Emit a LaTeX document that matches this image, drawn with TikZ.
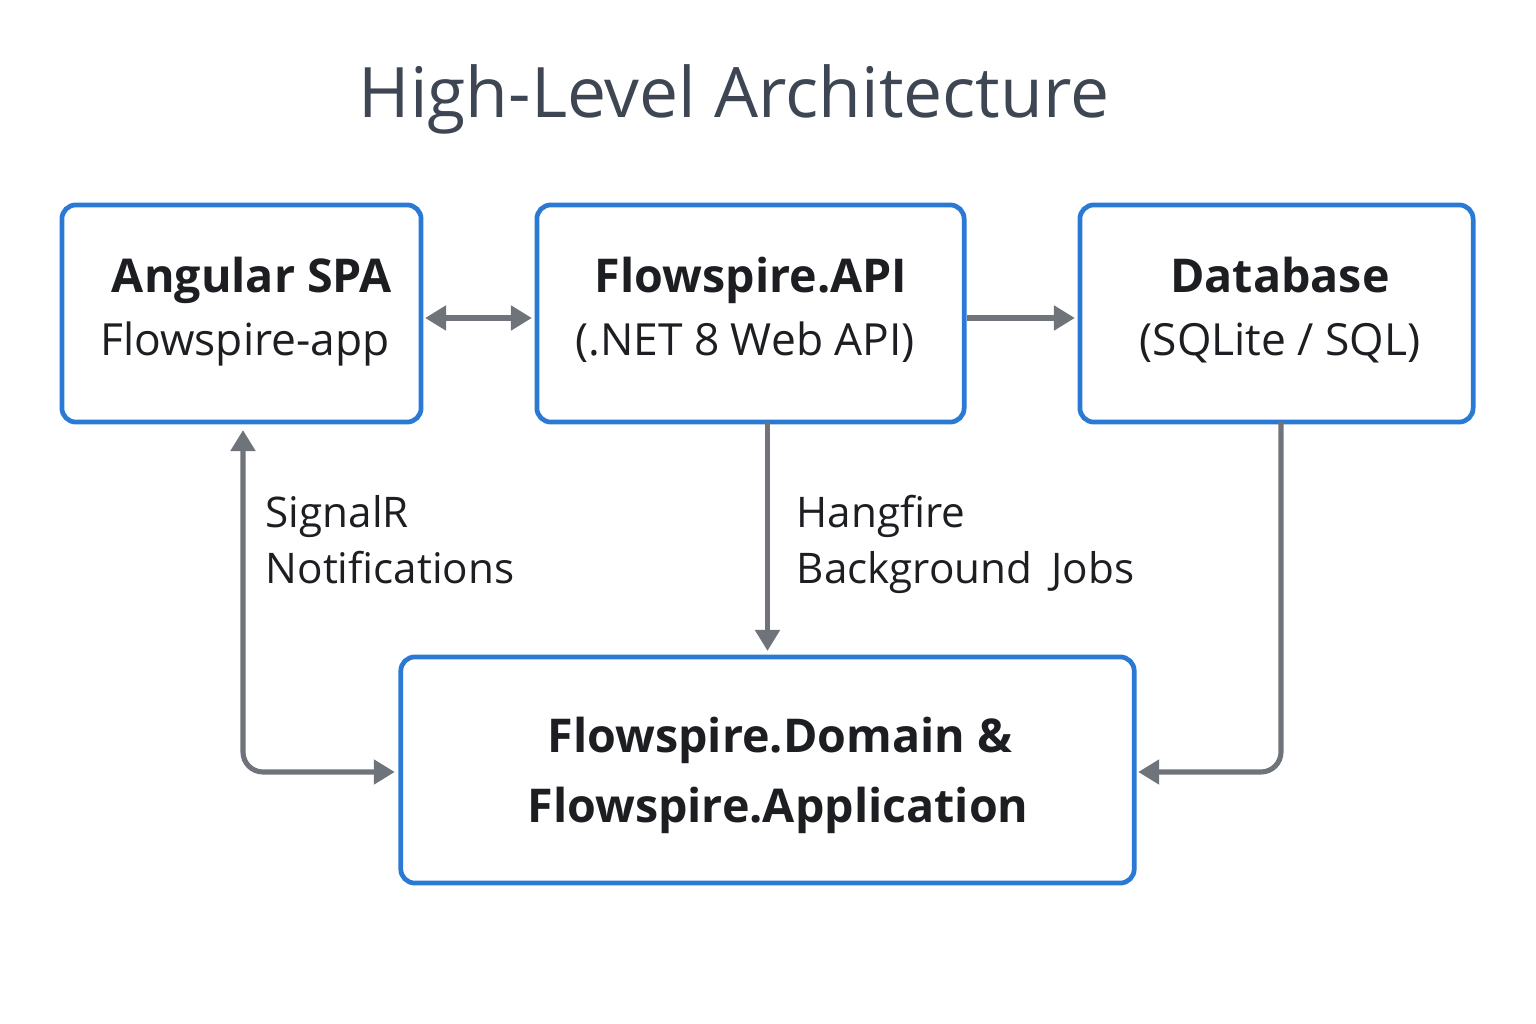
\documentclass[tikz,border=0pt]{standalone}
\usepackage{fontspec}
\setmainfont{Open Sans}
\usetikzlibrary{arrows.meta}
\definecolor{boxblue}{HTML}{2A7AD5}
\definecolor{arrgray}{HTML}{6F747B}
\definecolor{titlegray}{HTML}{3D4652}
\definecolor{textblack}{HTML}{1C1E22}
\tikzset{
  box/.style={draw=boxblue, line width=1.35pt, rounded corners=0.14cm, fill=white,
    align=center, text=textblack, inner sep=0pt, outer sep=0pt},
  arr/.style={draw=arrgray, line width=1.45pt,
    -{Triangle[length=0.21cm, width=0.24cm, fill=arrgray]}},
  dbl/.style={draw=arrgray, line width=1.45pt,
    {Triangle[length=0.21cm, width=0.24cm, fill=arrgray]}-{Triangle[length=0.21cm, width=0.24cm, fill=arrgray]}},
  lbl/.style={anchor=base west, inner sep=0pt, text=textblack,
    font=\fontsize{12pt}{15pt}\selectfont},
  big/.style={anchor=base, text=textblack, font=\fontsize{13.25pt}{16pt}\selectfont\bfseries},
  small/.style={anchor=base, text=textblack, font=\fontsize{12.6pt}{16pt}\selectfont},
}
\begin{document}
\begin{tikzpicture}[x=0.01cm, y=-0.01cm]
\useasboundingbox (0,0) rectangle (1536,1024);
% title
\node[text=titlegray, font=\fontsize{19.8pt}{24pt}\selectfont, anchor=base] (title) at (734,117) {High-Level Architecture};
% boxes
\node[box, minimum width=3.59cm, minimum height=2.17cm] (ang) at (241.5,313.5) {};
\node[box, minimum width=4.27cm, minimum height=2.17cm] (api) at (750.5,313.5) {};
\node[box, minimum width=3.93cm, minimum height=2.17cm] (db) at (1276.5,313.5) {};
\node[box, minimum width=7.33cm, minimum height=2.26cm] (dom) at (767.5,770) {};
% box texts
\node[big] (angt1) at (252,292) {Angular SPA};
\node[small] (angt2) at (245,355) {Flowspire-app};
\node[big] (apit1) at (751,292) {Flowspire.API};
\node[small] (apit2) at (745,355) {(.NET 8 Web API)};
\node[big] (dbt1) at (1280,292) {Database};
\node[small] (dbt2) at (1280,355) {(SQLite / SQL)};
\node[big] (domt1) at (780,752) {Flowspire.Domain \&};
\node[big] (domt2) at (778,822) {Flowspire.Application};
% connectors
\draw[dbl] ([shift={(4,4.5)}]ang.east) -- ([shift={(-5,4.5)}]api.west);
\draw[arr] ([shift={(3,4.5)}]api.east) -- ([shift={(-5,4.5)}]db.west);
\draw[arr] (api.south -| dom.north) -- ([yshift=0.06cm]dom.north);
\draw[dbl, rounded corners=0.2cm] ([shift={(1.5,8)}]ang.south) |- ([shift={(-6,2)}]dom.west);
\draw[arr, rounded corners=0.2cm] ([shift={(4.5,0)}]db.south) |- ([shift={(4,2)}]dom.east);
% labels
\node[lbl] (sig1) at (265,527) {SignalR};
\node[lbl] (sig2) at (265,583) {Notifications};
\node[lbl] (hang1) at (796,527) {Hangfire};
\node[lbl] (hang2) at (796,583) {Background\hspace{0.45em}Jobs};
\end{tikzpicture}
\end{document}
